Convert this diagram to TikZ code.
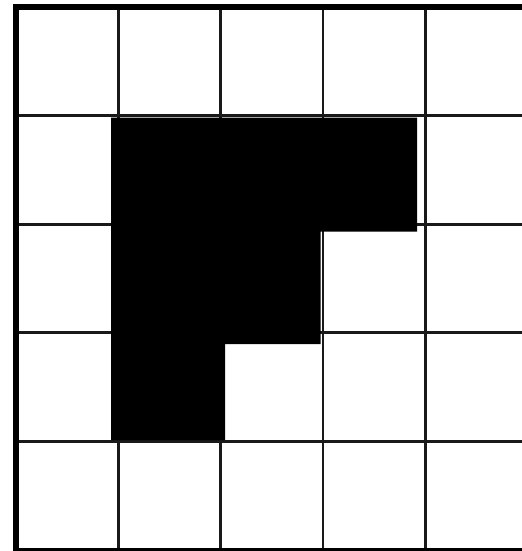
\documentclass[tikz,border=0pt]{standalone}
\begin{document}
\begin{tikzpicture}[x=0.75pt,y=-0.75pt,
  gridline/.style={line width=2.0pt,color=black!90},
  border/.style={line width=4.5pt,color=black},
  shade/.style={fill=black,draw=none}]
\useasboundingbox (0,0) rectangle (522,551);
\clip (0,0) rectangle (522,551);
\fill[white] (0,0) rectangle (522,551);
% interior grid lines
\foreach \x in {118.5,220.7,323,425.3}
  \draw[gridline] (\x,7) -- (\x,550.7);
\foreach \y in {115.5,224.6,332.5,441.5}
  \draw[gridline] (16,\y) -- (527.6,\y);
% outer border
\draw[border] (16,7) rectangle (527.6,550.7);
% black shape
\fill[shade] (111,117.7) -- (417,117.7) -- (417,231.7) -- (320.7,231.7)
  -- (320.7,344) -- (225,344) -- (225,440) -- (111,440) -- cycle;
\end{tikzpicture}
\end{document}
